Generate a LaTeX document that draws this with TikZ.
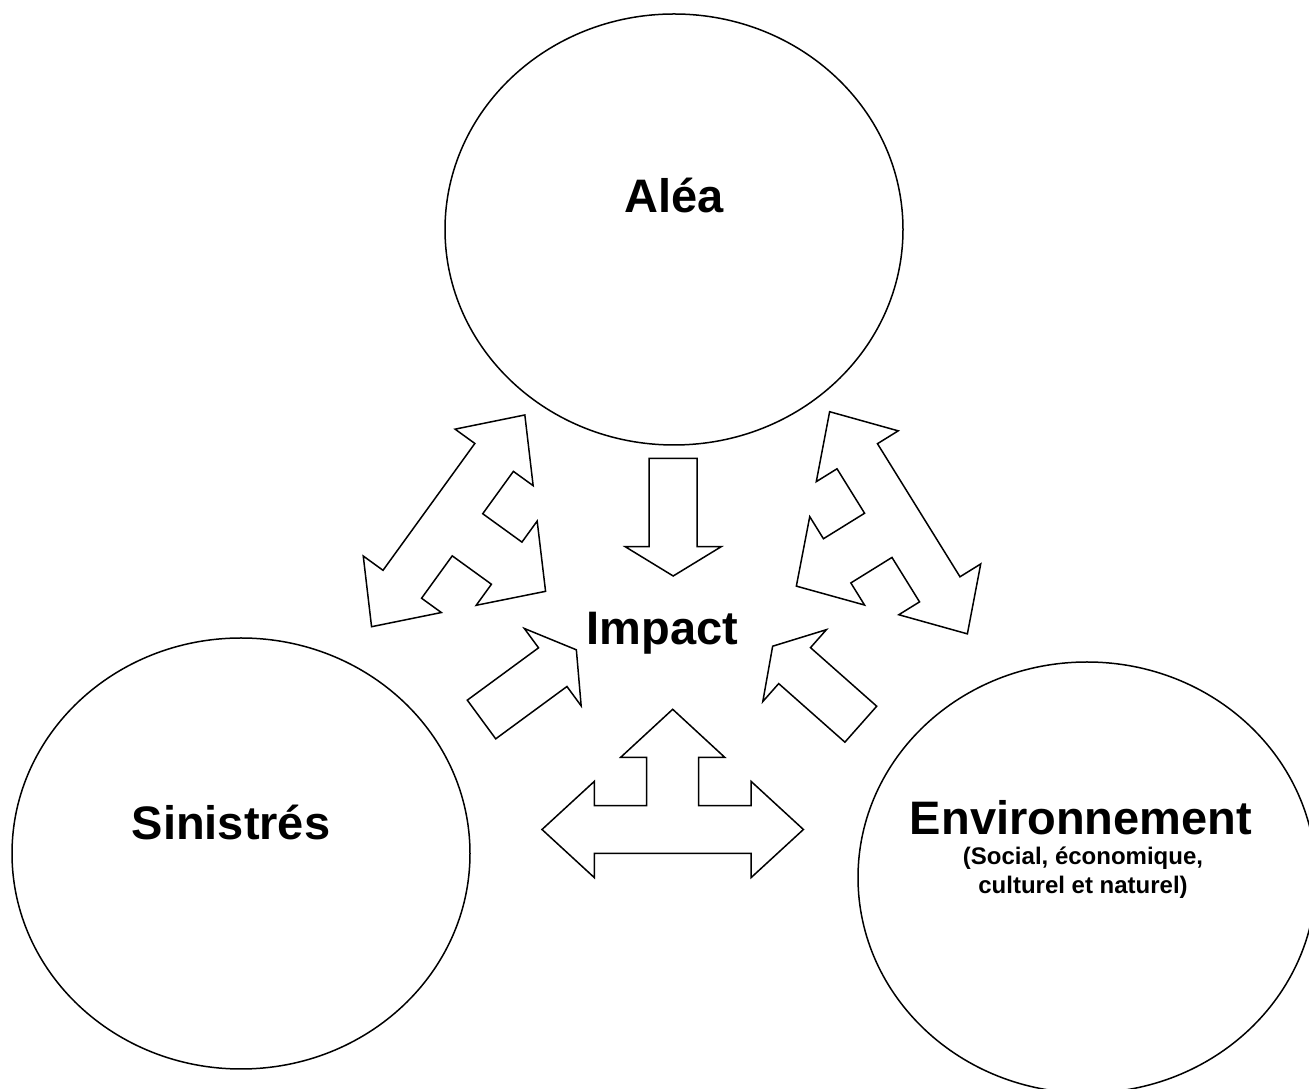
\documentclass[tikz,border=0pt]{standalone}
\usepackage{fontspec}
\setmainfont{Liberation Sans}
\usetikzlibrary{shapes.geometric}

\tikzset{
  bubble/.style={draw, ellipse, line width=1.5pt, minimum width=458pt, minimum height=431pt, inner sep=0pt},
  blockarrow/.style={draw, line width=1.5pt, line join=miter},
  bigtext/.style={font=\fontsize{47}{56}\selectfont\bfseries},
  smalltext/.style={font=\fontsize{24}{29}\selectfont\bfseries, align=center}
}

\def\triarrow{(-130.7,0) -- (-78.3,48.2) -- (-78.3,23.8) -- (-26,23.8) -- (-26,72.2) -- (-52,72.2) -- (0,120.2) -- (52,72.2) -- (26,72.2) -- (26,23.8) -- (78.3,23.8) -- (78.3,48.2) -- (130.7,0) -- (78.3,-48.2) -- (78.3,-23.8) -- (-78.3,-23.8) -- (-78.3,-48.2) -- cycle}
\def\onearrow{(0,-24) -- (88.4,-24) -- (88.4,-48) -- (117.7,0) -- (88.4,48) -- (88.4,24) -- (0,24) -- cycle}

\begin{document}
\begin{tikzpicture}[x=1pt, y=1pt]
    \useasboundingbox (0,0) rectangle (1309,1089);
    \clip (0,0) rectangle (1309,1089);

    \coordinate (C1) at (674, 859.5);
    \coordinate (C2) at (241, 235.5);
    \coordinate (C3) at (1087, 211.5);

    \node[bubble] (alea) at (C1) {};
    \node[bubble] (sinistres) at (C2) {};
    \node[bubble] (environnement) at (C3) {};

    \node[bigtext] (alealabel) at (674, 893) {Aléa};
    \node[bigtext] (impact) at (662.5, 456) {Impact};
    \node[bigtext] (sinistreslabel) at (231, 266) {Sinistrés};
    \node[bigtext] (envlabel) at (1081, 271) {Environnement};
    \node[smalltext] (envsub) at (1083, 216) {(Social, économique,\\culturel et naturel)};

    % arrows with three heads
    \draw[blockarrow, shift={(448.2,568.15)}, rotate=-125.9] \triarrow;
    \draw[blockarrow, shift={(898.5,566.2)}, rotate=121.8] \triarrow;
    \draw[blockarrow, shift={(672.7,259.5)}] \triarrow;

    % arrows towards impact
    \draw[blockarrow, shift={(673.2,630.7)}, rotate=-90] \onearrow;
    \draw[blockarrow, shift={(481.5,369.5)}, rotate=36.3] \onearrow;
    \draw[blockarrow, shift={(860.8,364.8)}, rotate=138.5] \onearrow;
\end{tikzpicture}
\end{document}
